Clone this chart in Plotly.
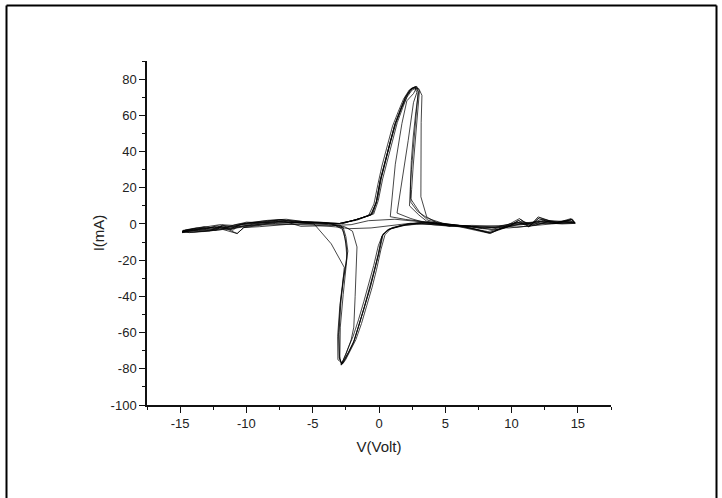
import plotly.graph_objects as go

# ---- data: measured I-V sweeps (V in volts, I in mA), one list pair per cycle ----
v_c1 = [-2.9, -1.8, -0.6, -0.2, 0.1, 0.4, 0.8, 1.2, 1.6, 2.0, 2.4, 2.75, 2.95, 2.8, 2.6, 2.45, 2.35, 2.3, 3.0, 3.6,
        4.5, 6.2, 8.3, 9.9, 10.7, 11.4, 12.1, 13.3, 14.5, 14.8, 13.5, 12.2, 11.0, 10.0, 8.5, 6.3, 4.2, 3.2,
        2.0, 0.7, 0.25, 0.0, -0.35, -0.7, -1.1, -1.5, -1.9, -2.3, -2.65, -2.8, -3.0, -3.05, -2.9, -2.7, -2.5, -2.4, -2.55, -2.75,
        -3.5, -5.0, -6.0, -7.4, -9.0, -10.2, -11.2, -11.8, -12.3, -13.2, -14.0, -14.85, -14.2, -13.0, -11.5, -10.0, -8.0, -6.0, -4.2, -3.0]
i_c1 = [0.3, 2.2, 5.0, 12, 24, 33, 44, 55, 63, 70, 74.5, 75.5, 73, 60, 45, 30, 18, 10, 5, 1.5,
        0.2, -1.2, -4.8, -1.0, 2.5, -1.2, 3.5, 0.5, 2.5, 0.8, 1.0, 1.5, 0.0, -0.5, -3.0, -1.0, -0.5, 0.3,
        -0.7, -3.0, -6.5, -15, -26, -36, -46, -56, -65, -71, -76, -77.5, -74, -60, -42, -30, -22, -16, -8, -3,
        0.0, 0.8, 1.2, 2.3, 1.0, 0.2, -2.6, -0.8, -3.5, -2.0, -3.5, -4.4, -3.8, -3.0, -2.0, -1.0, 0.5, 0.8, 0.6, 0.3]

v_c2 = [-2.8, -1.6, -0.4, -0.05, 0.28, 0.6, 1.0, 1.38, 1.78, 2.15, 2.52, 2.85, 2.98, 2.78, 2.58, 2.44, 2.37, 2.38, 3.1, 3.7,
        5.0, 6.5, 8.4, 9.8, 10.5, 11.3, 12.0, 13.4, 14.5, 14.8, 13.2, 12.0, 10.8, 9.6, 8.0, 6.0, 4.0, 3.0,
        1.9, 0.9, 0.45, 0.15, -0.18, -0.52, -0.92, -1.32, -1.75, -2.15, -2.52, -2.75, -3.1, -3.12, -2.95, -2.7, -2.48, -2.35, -2.5, -2.7,
        -3.8, -5.2, -6.4, -7.6, -9.2, -10.6, -11.0, -11.9, -12.6, -13.6, -14.3, -14.85, -14.0, -12.5, -11.0, -9.6, -7.8, -5.8, -4.0, -2.9]
i_c2 = [0.0, 2.6, 5.5, 13, 25, 34, 45, 56, 64, 71, 75, 76, 72.5, 62, 48, 35, 22, 14, 6, 2,
        0.0, -1.6, -5.0, -1.4, 2.0, -1.6, 3.9, 0.5, 2.4, 0.5, 0.4, 1.0, -0.4, -1.2, -2.2, -0.8, 0.4, 0.8,
        -0.4, -2.5, -6.0, -14, -25, -35, -45, -55, -64, -70, -75, -77, -75, -62, -45, -32, -22, -15, -7, -2,
        0.3, 1.0, 1.5, 2.0, 0.6, -0.5, -3.5, -1.5, -2.8, -3.0, -3.2, -4.0, -4.6, -3.6, -2.5, -1.0, 0.3, 0.9, 0.5, 0.2]

v_c3 = [-2.95, -1.7, -0.8, -0.38, -0.08, 0.22, 0.62, 1.02, 1.45, 1.85, 2.28, 2.65, 3.0, 3.24, 3.18, 3.16, 3.16, 3.6, 4.4,
        6.1, 8.4, 9.9, 10.6, 11.3, 12.0, 13.2, 14.5, 14.7, 13.0, 11.8, 10.2, 8.8, 7.0, 5.0, 3.5,
        2.2, 1.0, 0.3, -0.05, -0.4, -0.75, -1.15, -1.55, -1.95, -2.35, -2.65, -2.85, -2.95, -2.92, -2.7, -2.52, -2.42, -2.5, -2.65, -2.85,
        -4.0, -5.6, -7.0, -8.4, -9.8, -10.8, -11.6, -12.2, -13.0, -13.8, -14.6, -14.85, -14.0, -12.8, -11.4, -10.2, -8.6, -6.8, -4.6, -3.0]
i_c3 = [0.5, 2.0, 4.5, 11, 22, 32, 43, 54, 62, 69, 74, 75.5, 74.8, 71, 56, 35, 15, 3.9, 0.5,
        -1.6, -5.3, 0.2, 3.0, -1.6, 3.0, 0.2, 3.0, 1.0, 1.8, -0.6, 0.6, -2.0, -1.4, -0.2, 0.6,
        0.0, -2.0, -5.5, -12, -23, -33, -43, -53, -62, -69, -74, -78, -73, -57, -39, -27, -19, -11, -5, -1,
        0.8, 1.2, 2.6, 2.0, 0.8, -0.3, -2.0, -1.0, -2.5, -2.2, -3.3, -4.6, -3.0, -2.0, -1.5, -0.3, 0.8, 1.6, 1.0, 0.2]

v_c4 = [-2.7, -1.4, -0.45, -0.1, 0.2, 0.5, 0.9, 1.3, 1.7, 2.1, 2.5, 2.82, 2.6, 2.1, 1.73, 1.23, 0.98, 0.85, 2.0, 3.4,
        5.5, 7.2, 8.3, 9.4, 10.4, 11.0, 12.3, 13.5, 14.4, 14.8, 13.8, 12.6, 11.5, 9.8, 7.8, 5.6, 3.8, 2.8,
        1.6, 0.6, 0.2, -0.05, -0.4, -0.75, -1.15, -1.55, -1.95, -2.35, -2.7, -2.85, -2.5, -2.1, -1.9, -1.8, -1.7, -1.66, -2.0, -2.6,
        -3.8, -4.9, -6.2, -7.8, -9.4, -10.4, -11.2, -12.0, -12.8, -13.6, -14.4, -14.85, -14.2, -13.2, -11.8, -10.7, -10.2, -9.0, -6.5, -4.5, -2.9]
i_c4 = [0.6, 3.0, 6.0, 14, 26, 35, 46, 56, 64, 70, 74, 75, 72, 68, 55.5, 33, 15, 4, 2.5, 1.2,
        -0.6, -2.8, -5.0, -2.0, 1.0, -0.5, 2.5, 1.0, 2.0, 0.3, 0.0, 0.6, -1.0, -2.2, -1.8, -0.6, 0.0, -0.2,
        -1.0, -3.5, -7, -17, -27, -37, -47, -57, -66, -72, -77, -77.5, -72, -64, -57, -40, -25, -12.7, -4, -1.5,
        -0.4, 0.2, 0.8, 1.4, 0.0, -1.4, -3.0, -2.0, -3.8, -3.6, -4.0, -4.8, -4.4, -4.2, -3.0, -5.3, -2.0, -1.5, 0.0, 0.2, 0.0]

v_c5 = [-2.85, -1.7, -0.55, -0.2, 0.1, 0.42, 0.82, 1.22, 1.62, 2.02, 2.42, 2.78, 3.05, 2.9, 2.72, 2.58, 2.46, 2.4, 2.9, 3.7,
        4.8, 6.0, 7.8, 9.0, 10.0, 11.0, 12.2, 13.0, 14.0, 14.6, 13.0, 11.6, 10.4, 9.2, 7.6, 5.8, 4.4, 3.4,
        2.1, 0.75, 0.3, 0.02, -0.32, -0.68, -1.08, -1.48, -1.88, -2.28, -2.62, -2.78, -2.98, -3.02, -2.88, -2.68, -2.62, -3.6, -4.9,
        -6.0, -7.4, -8.8, -10.2, -11.0, -11.8, -12.4, -13.2, -14.1, -14.85, -14.3, -13.4, -12.2, -10.8, -9.4, -7.6, -5.4, -3.8, -2.85]
i_c5 = [0.2, 2.4, 5.2, 12.5, 24.5, 33.5, 44.5, 55.5, 63.5, 70.5, 74.8, 76, 73.5, 61, 46, 32, 19, 12, 7, 3,
        0.4, -0.8, -2.6, -3.0, -1.0, 0.6, 1.4, 1.0, 1.6, 1.0, 0.0, -0.8, -1.8, -1.0, -1.6, -0.6, 0.6, 1.0,
        -0.3, -2.8, -6.2, -15.5, -25.5, -35.5, -45.5, -55.5, -64.5, -70.5, -75.5, -77, -74.5, -61, -44, -31, -24, -11, 0.0,
        0.6, 2.4, 1.5, 0.2, -1.5, -0.7, -2.2, -1.5, -2.8, -4.2, -4.8, -4.0, -3.0, -2.0, -0.4, 1.0, 0.8, 0.4, 0.2]

v_c6 = [-2.9, -1.9, -0.65, -0.22, 0.08, 0.38, 0.78, 1.18, 1.58, 1.98, 2.38, 2.72, 2.85, 2.6, 2.2, 1.8, 1.36, 2.4, 3.3, 4.4,
        5.4, 6.4, 8.2, 9.6, 10.8, 11.6, 12.4, 13.6, 14.6, 14.75, 13.4, 12.0, 10.6, 9.0, 7.0, 5.4,
        3.3, 1.2, -0.8, -2.1, -3.6, -5.9,
        -7.2, -8.6, -10.0, -11.0, -12.0, -13.0, -14.0, -14.8, -13.8, -12.4, -11.4, -10.7, -10.2, -8.8, -7.0, -5.0,
        -3.3, -2.2, -0.6, 1.0, 2.4, 3.4, 5.4]
i_c6 = [0.4, 2.0, 4.8, 11.5, 23.5, 32.5, 43.5, 54.5, 62.5, 69.5, 74.2, 75.2, 72.5, 67, 46, 26, 6, 3, 1.1, 0.2,
        -1.3, -1.6, -4.2, -1.8, 1.6, -0.6, 2.0, 0.4, 2.6, 0.6, 0.6, 0.2, 0.8, -1.2, -0.8, -1.3,
        1.1, 2.6, 1.8, -0.4, -0.9, -1.3,
        1.6, 0.6, 1.0, -0.8, -0.4, -1.6, -2.6, -3.6, -3.4, -1.6, -3.0, -5.3, -2.0, -0.6, -0.2, -0.6,
        -1.6, -2.6, -2.2, -0.6, 0.4, 0.0, -1.3]

cycles = [(v_c1, i_c1), (v_c2, i_c2), (v_c3, i_c3), (v_c4, i_c4), (v_c5, i_c5), (v_c6, i_c6)]

x_ticks = [-15, -10, -5, 0, 5, 10, 15]
x_labels = ["-15", "-10", "-5", "0", "5", "10", "15"]
y_ticks = [-100, -80, -60, -40, -20, 0, 20, 40, 60, 80]
y_labels = ["-100", "-80", "-60", "-40", "-20", "0", "20", "40", "60", "80"]

fig = go.Figure()
for v, i in cycles:
    fig.add_trace(go.Scatter(x=v, y=i, mode="lines",
                             line=dict(color="rgba(0,0,0,0.72)", width=1),
                             hoverinfo="skip"))

axis_common = dict(showline=True, linecolor="#111", linewidth=1.5, showgrid=False, zeroline=False,
                   ticks="outside", ticklen=6, tickwidth=1.3, tickcolor="#111",
                   tickfont=dict(family="Liberation Sans, Arial", size=13, color="#222"))

fig.update_layout(
    width=722, height=498,
    margin=dict(l=147, r=111, t=61, b=93),
    plot_bgcolor="white", paper_bgcolor="white",
    showlegend=False,
    font=dict(family="Liberation Sans, Arial", size=13, color="#222"),
    xaxis=dict(range=[-17.5, 17.5], tickvals=x_ticks, ticktext=x_labels,
               minor=dict(ticks="outside", ticklen=3.5, tickwidth=1.2, tickcolor="#111", dtick=2.5, tick0=0),
               title=dict(text="V(Volt)", font=dict(size=15, family="Liberation Sans, Arial", color="#222"), standoff=11),
               **axis_common),
    yaxis=dict(range=[-100, 90], tickvals=y_ticks, ticktext=y_labels,
               minor=dict(ticks="outside", ticklen=3.5, tickwidth=1.2, tickcolor="#111", dtick=10, tick0=0),
               title=dict(text="I(mA)", font=dict(size=15, family="Liberation Sans, Arial", color="#222"), standoff=2),
               **axis_common),
)

# outer frame of the figure (top, left and right borders)
def px_x(px):
    return (px - 147) / 464.0

def px_y(py):
    return (405 - py) / 344.0

frame = dict(color="black", width=2)
fig.add_shape(type="line", xref="paper", yref="paper", x0=px_x(6.5), x1=px_x(716.5), y0=px_y(5.5), y1=px_y(5.5), line=frame)
fig.add_shape(type="line", xref="paper", yref="paper", x0=px_x(6.5), x1=px_x(6.5), y0=px_y(5.5), y1=px_y(498), line=frame)
fig.add_shape(type="line", xref="paper", yref="paper", x0=px_x(716.5), x1=px_x(716.5), y0=px_y(5.5), y1=px_y(498), line=frame)

fig.write_html("out.html")
